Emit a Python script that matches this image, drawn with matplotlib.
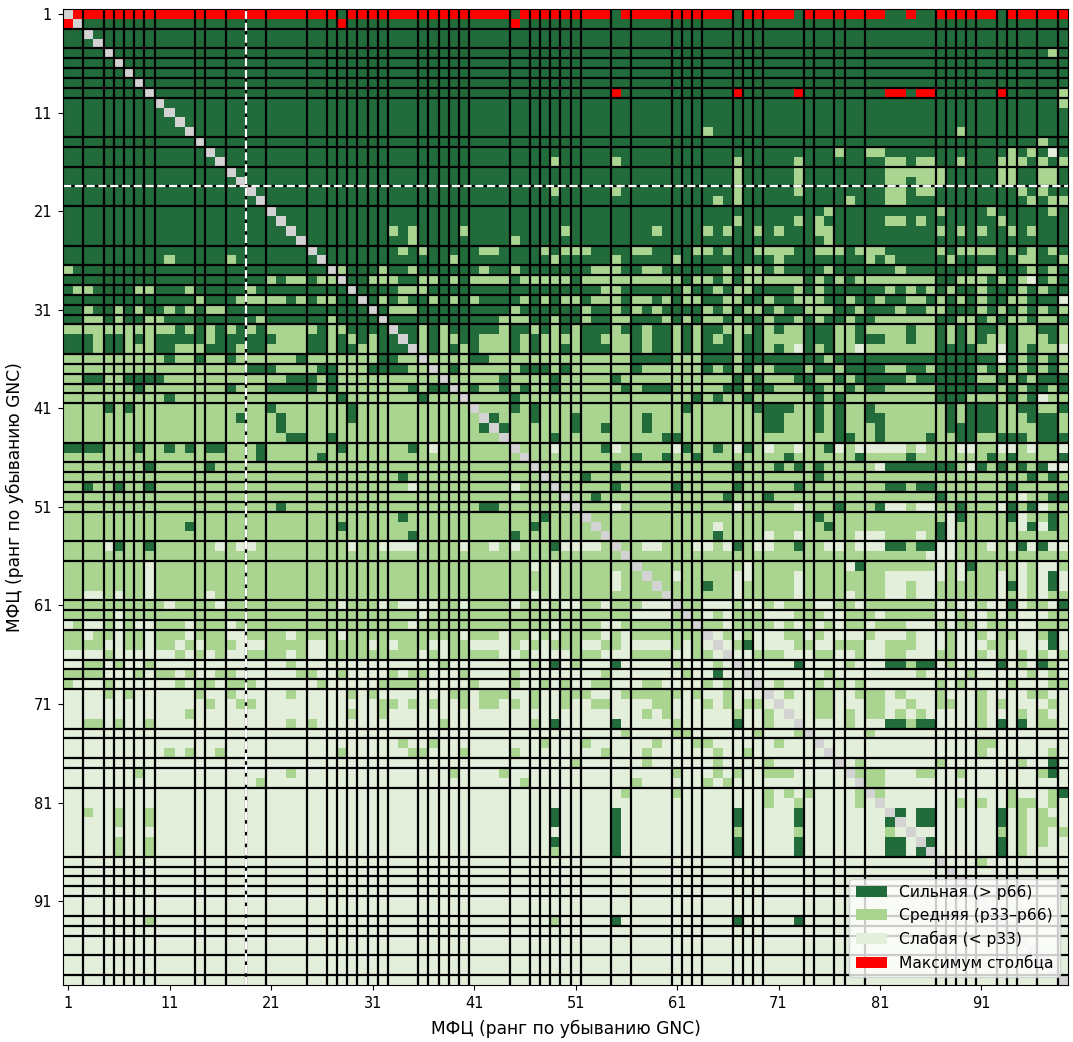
import numpy as np
import matplotlib
matplotlib.use("Agg")
import matplotlib.pyplot as plt
from matplotlib.colors import ListedColormap
from matplotlib.patches import Patch

N = 99

# group boundaries (line drawn after this rank), same for rows and columns
GROUP_EDGES = [2, 4, 5, 6, 7, 8, 9, 13, 14, 16, 18, 20, 24, 26, 27, 28, 29, 30, 31, 32,
               35, 36, 37, 38, 39, 40, 44, 46, 47, 48, 49, 50, 51, 54, 56, 60, 61, 62, 63,
               66, 67, 68, 69, 73, 74, 76, 77, 79, 86, 87, 88, 89, 90, 92, 93, 94, 96, 98]
HIGHLIGHT_EDGE = 18

# per row: base class + exceptions by column (1-based)
# S = strong, M = medium, W = weak, R = column maximum
ROWS = [
    (1, 'R', {'S': [28, 45, 55, 67, 73, 82, 83, 85, 86, 93]}),
    (2, 'S', {'R': [1, 28, 45]}),
    (3, 'S', {}),
    (4, 'S', {}),
    (5, 'S', {'M': [98]}),
    (6, 'S', {}),
    (7, 'S', {}),
    (8, 'S', {}),
    (9, 'S', {'R': [55, 67, 73, 82, 83, 85, 86, 93], 'M': [99]}),
    (10, 'S', {'M': [99]}),
    (11, 'S', {}),
    (12, 'S', {}),
    (13, 'S', {'M': [64, 89]}),
    (14, 'S', {'M': [97]}),
    (15, 'S', {'M': [77, 80, 81, 94, 96], 'W': [98]}),
    (16, 'S', {'M': [49, 55, 67, 73, 82, 83, 85, 86, 89, 93, 94, 95, 97, 99]}),
    (17, 'S', {'M': [67, 73, 82, 83, 84, 85, 86, 87, 93, 94, 97, 98]}),
    (18, 'S', {'M': [67, 73, 82, 83, 85, 86, 87, 93, 94, 97, 98]}),
    (19, 'S', {'M': [49, 55, 67, 73, 82, 83, 85, 86, 95, 97]}),
    (20, 'S', {'M': [65, 67, 78, 82, 83, 96, 98, 99]}),
    (21, 'S', {'M': [76, 87, 92, 98]}),
    (22, 'S', {'M': [67, 73, 75, 82, 83, 85, 93]}),
    (23, 'S', {'M': [33, 35, 40, 50, 59, 64, 66, 69, 71, 75, 76, 87, 89, 91, 94, 96]}),
    (24, 'S', {'M': [35, 45, 76]}),
    (25, 'S', {'M': [34, 36, 42, 43, 48, 50, 51, 52, 57, 58, 63, 64, 66, 69, 70, 71, 72, 75,
                     76, 77, 79, 80, 81, 87, 89, 90, 91, 92, 94, 96, 98]}),
    (26, 'S', {'M': [11, 17, 39, 49, 55, 61, 71, 80, 82, 88, 95, 96, 99]}),
    (27, 'S', {'M': [1, 28, 32, 35, 42, 45, 53, 54, 55, 58, 59, 66, 68, 69, 71, 76, 83, 91,
                     92, 96, 98]}),
    (28, 'S', {'M': [21, 23, 24, 26, 27, 31, 32, 33, 36, 37, 39, 41, 42, 43, 44, 46, 47, 48,
                     49, 50, 52, 53, 54, 55, 56, 57, 58, 59, 60, 61, 63, 64, 66, 68, 69, 70,
                     71, 72, 73, 75, 77, 79, 80, 81, 82, 83, 84, 85, 86, 89, 90, 91, 93, 95,
                     98], 'W': [96]}),
    (29, 'S', {'M': [2, 3, 8, 9, 13, 19, 34, 35, 36, 54, 55, 62, 65, 67, 68, 73, 75, 82, 84,
                     86, 88, 91, 95, 97]}),
    (30, 'S', {'M': [14, 18, 19, 20, 21, 22, 24, 26, 27, 32, 34, 37, 39, 41, 46, 48, 50, 51,
                     53, 54, 55, 57, 58, 60, 62, 63, 66, 67, 70, 73, 74, 75, 78, 81, 84, 85,
                     87, 89, 91, 94, 95], 'W': [99]}),
    (31, 'S', {'M': [3, 6, 8, 11, 13, 15, 16, 33, 34, 35, 45, 52, 55, 57, 59, 64, 66, 68,
                     69, 71, 74, 75, 76, 79, 83, 86, 87, 91, 93, 95, 97, 99]}),
    (32, 'S', {'M': [3, 4, 6, 9, 10, 20, 27, 44, 45, 46, 49, 52, 55, 56, 60, 62, 64, 65, 67,
                     70, 73, 75, 78, 81, 82, 83, 84, 85, 86, 89, 90, 92, 94, 95, 97, 98]}),
    (33, 'M', {'S': [12, 14, 16, 18, 20, 26, 29, 30, 31, 32, 34, 35, 37, 39, 40, 41, 42, 43,
                     45, 46, 48, 50, 52, 53, 54, 56, 57, 59, 60, 62, 64, 65, 69, 71, 74, 75,
                     76, 79, 84, 87, 89, 91, 92, 94, 97, 98]}),
    (34, 'M', {'S': [1, 2, 3, 5, 6, 8, 10, 11, 12, 13, 14, 16, 17, 18, 19, 20, 21, 25, 26,
                     28, 30, 32, 33, 35, 37, 40, 41, 45, 47, 52, 53, 57, 59, 60, 62, 64, 66,
                     68, 69, 74, 75, 76, 79, 80, 81, 84, 87, 89, 91, 94, 98]}),
    (35, 'M', {'S': [1, 2, 3, 5, 6, 10, 11, 15, 16, 17, 19, 20, 25, 26, 28, 29, 32, 33, 34,
                     37, 39, 41, 45, 47, 50, 52, 53, 54, 57, 59, 60, 62, 64, 65, 66, 68, 69,
                     71, 74, 76, 87, 88, 89, 90, 94, 96], 'W': [73, 79, 93, 99]}),
    (36, 'M', {'S': [11, 14, 17, 24, 32, 33, 41, 42, 57, 58, 59, 60, 64, 65, 66, 68, 69, 70,
                     71, 72, 73, 74, 75, 77, 78, 79, 80, 81, 82, 83, 84, 85, 86, 87, 88, 89,
                     90, 91, 92, 94, 96, 98], 'W': [93]}),
    (37, 'M', {'S': [19, 20, 21, 26, 27, 31, 32, 33, 34, 39, 46, 47, 48, 50, 57, 64, 66, 68,
                     71, 72, 73, 75, 76, 78, 79, 80, 81, 84, 85, 87, 88, 89, 90, 92, 94, 96,
                     98]}),
    (38, 'M', {'S': [3, 4, 7, 8, 9, 10, 23, 24, 25, 27, 44, 49, 55, 67, 69, 73, 74, 77, 79,
                     80, 81, 82, 83, 85, 86, 87, 88, 89, 90, 93, 95, 97, 98, 99]}),
    (39, 'M', {'S': [8, 17, 21, 22, 23, 24, 25, 27, 35, 37, 38, 41, 44, 46, 49, 56, 58, 59,
                     60, 66, 67, 69, 70, 74, 75, 78, 80, 81, 87, 88, 89, 90, 91, 92, 94, 96,
                     97, 99]}),
    (40, 'M', {'S': [11, 28, 36, 45, 63, 65, 68, 75, 77, 87, 88, 89, 94, 96], 'W': [97]}),
    (41, 'M', {'S': [5, 7, 21, 29, 45, 47, 62, 69, 70, 71, 72, 75, 77, 80, 88, 90, 91, 92,
                     95, 96, 99]}),
    (42, 'M', {'S': [18, 22, 29, 43, 47, 51, 58, 70, 71, 75, 77, 80, 81, 88, 90, 91, 92, 96,
                     97, 98]}),
    (43, 'M', {'S': [22, 42, 44, 51, 54, 58, 70, 71, 75, 77, 81, 88, 89, 90, 91, 92, 97, 98]}),
    (44, 'M', {'S': [23, 24, 27, 49, 60, 61, 77, 78, 81, 86, 89, 90, 93, 94, 95, 97, 98, 99]}),
    (45, 'M', {'S': [1, 2, 3, 4, 8, 11, 13, 15, 16, 20, 28, 35, 54, 62, 65, 68, 76],
               'W': [37, 49, 55, 61, 67, 70, 73, 77, 79, 80, 81, 82, 83, 85, 89, 90, 93, 94,
                     96, 99]}),
    (46, 'M', {'S': [20, 26, 57, 60, 63, 72, 79, 84, 92, 94, 99]}),
    (47, 'M', {'S': [9, 15, 55, 67, 71, 73, 75, 82, 83, 84, 85, 86, 87, 88, 91, 93, 95, 97],
               'W': [81, 90, 98, 99]}),
    (48, 'M', {'S': [34, 52, 75, 96, 98]}),
    (49, 'M', {'S': [3, 6, 9, 55, 61, 67, 73, 82, 83, 85, 86, 94], 'W': [35, 45]}),
    (50, 'M', {'S': [53, 66, 70, 87, 98, 99], 'W': [95]}),
    (51, 'M', {'S': [22, 42, 43, 77, 81, 89, 94, 96],
               'W': [55, 67, 73, 82, 83, 85, 86, 93, 97]}),
    (52, 'M', {'S': [34, 48, 75, 89, 94, 98], 'W': [88, 95]}),
    (53, 'M', {'S': [13, 28, 47, 76, 87, 96, 98], 'W': [65, 88, 95, 97]}),
    (54, 'M', {'S': [35, 45, 65, 87], 'W': [70, 73, 79, 80, 81, 85, 88]}),
    (55, 'M', {'S': [6, 9, 49, 67, 73, 82, 83, 85, 86, 95, 97],
               'W': [5, 16, 18, 19, 29, 32, 33, 34, 35, 40, 43, 45, 50, 51, 52, 53, 58, 59,
                     63, 64, 66, 69, 70, 76, 77, 79, 80, 81, 87, 88, 92, 94, 96, 98, 99]}),
    (56, 'M', {'W': [86, 87, 88]}),
    (57, 'M', {'S': [79, 90], 'W': [9, 47, 49, 68, 78, 87, 89, 95, 97, 98]}),
    (58, 'M', {'S': [98], 'W': [9, 49, 55, 61, 67, 68, 73, 82, 83, 84, 85, 86, 87, 89, 93,
                                95, 97, 99]}),
    (59, 'M', {'S': [64, 94, 98], 'W': [9, 49, 55, 67, 73, 82, 83, 85, 86, 93, 95, 97, 99]}),
    (60, 'M', {'W': [3, 4, 6, 9, 15, 47, 49, 67, 73, 78, 82, 83, 85, 86, 93, 95, 97]}),
    (61, 'M', {'S': [94, 99], 'W': [11, 16, 28, 32, 34, 35, 36, 37, 40, 45, 48, 50, 51, 54,
                                    58, 59, 60, 64, 65, 66, 68, 69, 71, 75, 76, 79, 87, 89,
                                    90, 92, 93, 95, 98]}),
    (62, 'M', {'W': [6, 36, 57, 58, 59, 60, 64, 66, 70, 71, 72, 76, 77, 81, 87, 88, 90, 91,
                     93, 95, 96, 97]}),
    (63, 'M', {'W': [1, 3, 4, 6, 8, 9, 13, 17, 35, 49, 54, 55, 66, 71, 73, 75, 77, 80, 84,
                     85, 86, 88, 91, 94, 95, 96]}),
    (64, 'M', {'S': [98], 'W': [3, 6, 9, 13, 17, 18, 23, 28, 40, 44, 47, 49, 54, 56, 65, 67,
                                69, 70, 71, 74, 76, 77, 78, 79, 81, 82, 83, 85, 86, 87, 89,
                                90, 92, 95, 96, 99]}),
    (65, 'M', {'S': [68, 98], 'W': [5, 6, 9, 12, 14, 18, 19, 20, 25, 26, 31, 33, 37, 38, 41,
                                    42, 43, 44, 46, 48, 52, 53, 56, 57, 58, 59, 60, 62, 64,
                                    66, 69, 70, 71, 72, 75, 76, 80, 81, 85, 86, 87, 89, 90,
                                    91, 94, 95, 96, 97, 99]}),
    (66, 'W', {'M': [5, 12, 14, 16, 19, 20, 21, 22, 24, 27, 28, 29, 30, 31, 32, 33, 34, 35,
                     37, 39, 40, 41, 42, 43, 46, 51, 52, 53, 57, 58, 59, 60, 63, 64, 69, 70,
                     71, 75, 76, 79, 82, 83, 87, 88, 91, 93, 95, 97, 99]}),
    (67, 'W', {'M': [3, 4, 6, 9, 23, 38, 47, 51, 61, 65, 78, 84, 88, 95, 98],
               'S': [49, 55, 73, 82, 83, 85, 86, 93, 97]}),
    (68, 'W', {'M': [1, 2, 3, 4, 8, 10, 11, 13, 16, 17, 24, 25, 28, 33, 35, 36, 40, 45, 54,
                     62, 76, 85, 90, 96, 98], 'S': [65]}),
    (69, 'W', {'M': [1, 5, 12, 14, 15, 17, 18, 19, 26, 32, 33, 34, 35, 41, 45, 48, 50, 53,
                     54, 58, 59, 64, 66, 71, 75, 77, 79, 87, 89, 94, 98, 99]}),
    (70, 'W', {'M': [5, 7, 14, 17, 23, 29, 31, 39, 40, 42, 43, 44, 47, 50, 51, 52, 56, 57,
                     58, 59, 60, 61, 63, 66, 72, 75, 76, 79, 80, 81, 83, 87, 91, 96, 97]}),
    (71, 'W', {'M': [15, 18, 19, 32, 33, 35, 37, 40, 42, 43, 45, 47, 50, 53, 54, 59, 60, 64,
                     66, 68, 69, 75, 76, 80, 81, 84, 87, 88, 91, 93, 98]}),
    (72, 'W', {'M': [13, 29, 32, 58, 60, 67, 70, 75, 76, 78, 80, 81, 83, 85, 91, 95, 97]}),
    (73, 'W', {'M': [3, 4, 6, 9, 23, 25, 38, 47, 61, 70, 78, 84, 91, 97, 98],
               'S': [49, 55, 67, 82, 83, 85, 86, 93, 95]}),
    (74, 'W', {'M': [56, 61, 62, 69, 73, 80]}),
    (75, 'W', {'M': [34, 37, 48, 52, 59, 63, 64, 71, 91, 92]}),
    (76, 'W', {'M': [11, 13, 16, 28, 35, 36, 40, 45, 54, 58, 65, 68, 91, 98]}),
    (77, 'W', {'M': [51, 58, 65, 70, 79, 87, 95], 'S': [98]}),
    (78, 'W', {'M': [8, 23, 39, 44, 61, 65, 67, 70, 71, 72, 79, 80, 81, 85, 86, 89, 97],
               'S': [98]}),
    (79, 'W', {'M': [20, 46, 57, 64, 66, 80, 81]}),
    (80, 'W', {'M': [56, 61, 70, 72, 74, 79, 81, 94, 98], 'S': [99]}),
    (81, 'W', {'M': [70, 73, 79, 89, 91, 94, 95, 96, 98]}),
    (82, 'W', {'M': [3, 6, 9, 95, 97], 'S': [49, 55, 67, 73, 83, 85, 86, 93]}),
    (83, 'W', {'M': [6, 9, 95, 97, 98], 'S': [49, 55, 67, 73, 82, 85, 86, 93]}),
    (84, 'W', {'M': [67, 73, 82, 93, 95, 97, 99], 'S': [55]}),
    (85, 'W', {'M': [6, 9, 95, 97], 'S': [49, 55, 67, 73, 82, 83, 86, 93]}),
    (86, 'W', {'M': [6, 9, 49, 95], 'S': [55, 67, 73, 82, 83, 85, 93]}),
    (87, 'W', {'M': [91]}),
    (88, 'W', {}),
    (89, 'W', {}),
    (90, 'W', {}),
    (91, 'W', {}),
    (92, 'W', {}),
    (93, 'W', {'M': [9, 49], 'S': [55, 67, 73]}),
    (94, 'W', {}),
    (95, 'W', {}),
    (96, 'W', {}),
    (97, 'W', {}),
    (98, 'W', {}),
    (99, 'W', {}),
]

CLASS_CODE = {'W': 0, 'M': 1, 'S': 2, 'R': 3, 'D': 4}
COLORS = ['#e3efdb', '#a9d591', '#226b3a', '#ff0000', '#d3d3d3']
LEGEND_LABELS = ['Сильная (> p66)', 'Средняя (p33–p66)', 'Слабая (< p33)', 'Максимум столбца']

# build the class matrix
grid = np.zeros((N, N), dtype=int)
for r, base, extra in ROWS:
    grid[r - 1, :] = CLASS_CODE[base]
    for cls, cols in extra.items():
        for c in cols:
            grid[r - 1, c - 1] = CLASS_CODE[cls]
np.fill_diagonal(grid, CLASS_CODE['D'])

fig = plt.figure(figsize=(10.73, 10.42), dpi=100)
ax = fig.add_axes([0.0589, 0.0548, 0.9362, 0.9365])

ax.imshow(grid, cmap=ListedColormap(COLORS), vmin=-0.5, vmax=4.5,
          extent=(0.5, N + 0.5, N + 0.5, 0.5), aspect='auto', interpolation='nearest')

for b in GROUP_EDGES:
    ax.axhline(b + 0.5, color='black', lw=1.6)
    ax.axvline(b + 0.5, color='black', lw=1.6)

ax.axhline(HIGHLIGHT_EDGE + 0.5, color='white', lw=1.6, ls='--')
ax.axvline(HIGHLIGHT_EDGE + 0.5, color='white', lw=1.6, ls='--')

ticks = np.arange(1, N + 1, 10)
ax.set_xticks(ticks)
ax.set_yticks(ticks)
ax.tick_params(labelsize=10.5, pad=4.5)
ax.set_xlim(0.5, N + 0.5)
ax.set_ylim(N + 0.5, 0.5)

ax.set_xlabel('МФЦ (ранг по убыванию GNC)', fontsize=12.3, labelpad=6)
ax.set_ylabel('МФЦ (ранг по убыванию GNC)', fontsize=12.3, labelpad=7)

handles = [Patch(facecolor=COLORS[2], label=LEGEND_LABELS[0]),
           Patch(facecolor=COLORS[1], label=LEGEND_LABELS[1]),
           Patch(facecolor=COLORS[0], label=LEGEND_LABELS[2]),
           Patch(facecolor=COLORS[3], label=LEGEND_LABELS[3])]
ax.legend(handles=handles, loc='lower right', fontsize=11.2)

fig.savefig('out.png', dpi=100)
